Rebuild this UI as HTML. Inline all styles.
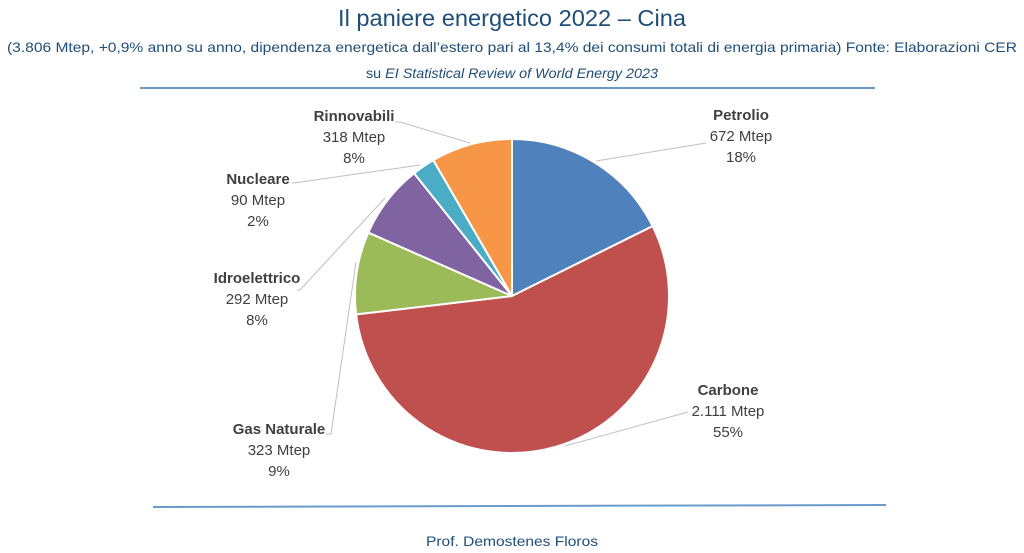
<!DOCTYPE html>
<html><head><meta charset="utf-8"><style>
html,body{margin:0;padding:0;background:#fff;}
svg{display:block;font-family:"Liberation Sans",sans-serif;}
</style></head><body>
<svg width="1024" height="553" viewBox="0 0 1024 553" xmlns="http://www.w3.org/2000/svg">
<text x="512" y="26" text-anchor="middle" font-size="23" fill="#1F4E79" textLength="348" lengthAdjust="spacingAndGlyphs">Il paniere energetico 2022 – Cina</text>
<text x="512" y="52" text-anchor="middle" font-size="14" fill="#1F4E79" textLength="1010" lengthAdjust="spacingAndGlyphs">(3.806 Mtep, +0,9% anno su anno, dipendenza energetica dall’estero pari al 13,4% dei consumi totali di energia primaria) Fonte: Elaborazioni CER</text>
<text x="512" y="78" text-anchor="middle" font-size="14" fill="#1F4E79" textLength="292" lengthAdjust="spacingAndGlyphs">su <tspan font-style="italic">EI Statistical Review of World Energy 2023</tspan></text>
<line x1="140" y1="88" x2="875" y2="88" stroke="#6A9BC8" stroke-width="2"/>
<line x1="153" y1="507" x2="886" y2="505" stroke="#6A9BC8" stroke-width="2"/>
<text x="512" y="546" text-anchor="middle" font-size="14" fill="#1F4E79" textLength="172" lengthAdjust="spacingAndGlyphs">Prof. Demostenes Floros</text>

<g stroke="#fff" stroke-width="2" stroke-linejoin="round">
<path d="M512,296 L512,139 A157,157 0 0 1 652.6,226.1 Z" fill="#4F81BD"/>
<path d="M512,296 L652.6,226.1 A157,157 0 1 1 356.1,314.4 Z" fill="#C0504D"/>
<path d="M512,296 L356.1,314.4 A157,157 0 0 1 368.3,232.6 Z" fill="#9BBB59"/>
<path d="M512,296 L368.3,232.6 A157,157 0 0 1 414.1,173.3 Z" fill="#8064A2"/>
<path d="M512,296 L414.1,173.3 A157,157 0 0 1 433.3,160.1 Z" fill="#4BACC6"/>
<path d="M512,296 L433.3,160.1 A157,157 0 0 1 512,139 Z" fill="#F79646"/>
</g>

<g stroke="#BFBFBF" stroke-width="1" fill="none">
<polyline points="596,161 706,143"/>
<polyline points="565,446 688,412"/>
<polyline points="326,434 331,434 356,262"/>
<polyline points="297,290 300,290 385,198"/>
<polyline points="292,183 294,183 420,165"/>
<polyline points="395,122 400,122 470,143"/>
</g>

<g font-size="15" fill="#404040" text-anchor="middle">
<text x="741" y="120" font-weight="bold">Petrolio</text>
<text x="741" y="141">672 Mtep</text>
<text x="741" y="162">18%</text>
<text x="728" y="395" font-weight="bold">Carbone</text>
<text x="728" y="416">2.111 Mtep</text>
<text x="728" y="437">55%</text>
<text x="279" y="434" font-weight="bold">Gas Naturale</text>
<text x="279" y="455">323 Mtep</text>
<text x="279" y="476">9%</text>
<text x="257" y="283" font-weight="bold">Idroelettrico</text>
<text x="257" y="304">292 Mtep</text>
<text x="257" y="325">8%</text>
<text x="258" y="184" font-weight="bold">Nucleare</text>
<text x="258" y="205">90 Mtep</text>
<text x="258" y="226">2%</text>
<text x="354" y="121" font-weight="bold">Rinnovabili</text>
<text x="354" y="142">318 Mtep</text>
<text x="354" y="163">8%</text>
</g>
</svg>
</body></html>
